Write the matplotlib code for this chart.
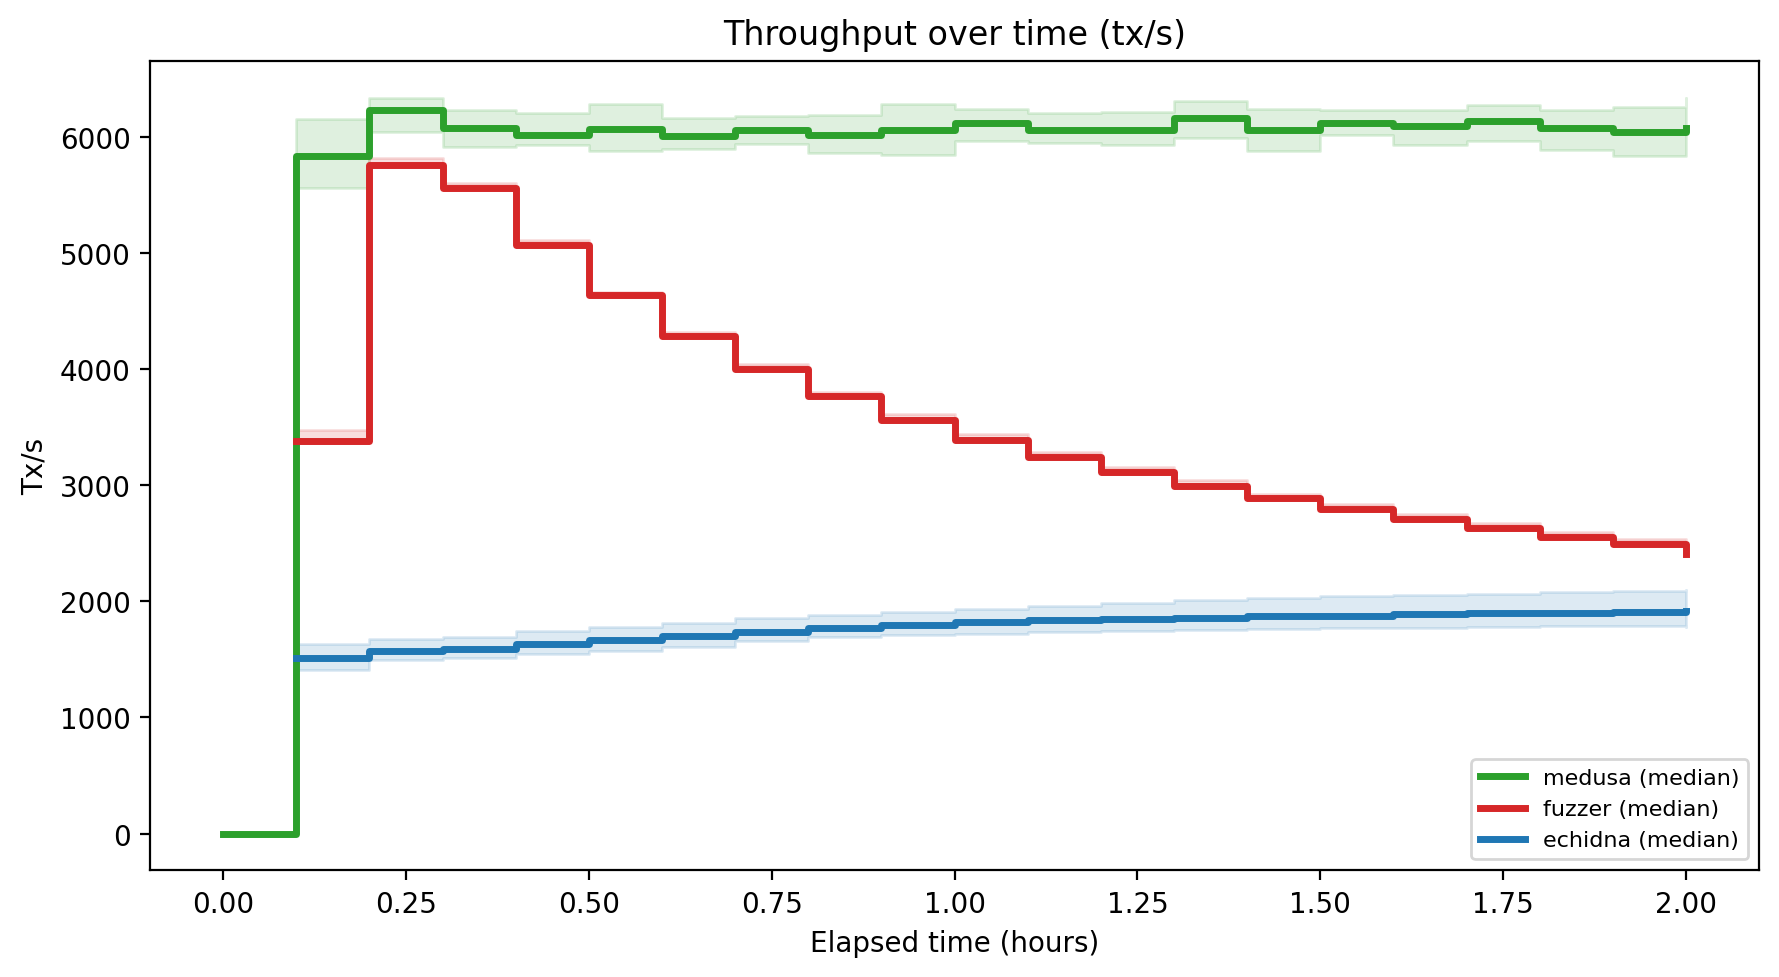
import numpy as np
import matplotlib
matplotlib.use("Agg")
from matplotlib import pyplot as plt

# elapsed time in hours
t_medusa = [0.0, 0.1, 0.2, 0.3, 0.4, 0.5, 0.6, 0.7, 0.8, 0.9, 1.0,
            1.1, 1.2, 1.3, 1.4, 1.5, 1.6, 1.7, 1.8, 1.9, 2.0]
t_other = t_medusa[1:]

medusa_med = [0, 5828, 6229, 6069, 6014, 6063, 6006, 6060, 6017, 6052, 6112,
              6052, 6052, 6157, 6060, 6120, 6092, 6137, 6069, 6043, 6075]
medusa_hi = [0, 6149, 6334, 6229, 6206, 6278, 6162, 6177, 6183, 6278, 6235,
             6206, 6212, 6304, 6241, 6224, 6224, 6269, 6224, 6258, 6330]
medusa_lo = [0, 5553, 6040, 5913, 5925, 5876, 5891, 5934, 5862, 5845, 5960,
             5943, 5925, 5991, 5874, 6011, 5929, 5962, 5885, 5828, 5830]

fuzzer_med = [3383, 5756, 5561, 5068, 4638, 4286, 3999, 3769, 3562, 3388,
              3239, 3110, 2995, 2886, 2795, 2709, 2632, 2557, 2494, 2408]
fuzzer_hi = [3477, 5816, 5600, 5105, 4664, 4320, 4042, 3802, 3609, 3440,
             3283, 3153, 3041, 2927, 2835, 2752, 2675, 2595, 2537, 2450]
fuzzer_lo = [3365, 5740, 5545, 5050, 4620, 4270, 3985, 3750, 3545, 3370,
             3222, 3093, 2978, 2870, 2778, 2692, 2615, 2540, 2477, 2395]

echidna_med = [1511, 1568, 1591, 1634, 1663, 1700, 1734, 1769, 1797, 1820,
               1838, 1849, 1860, 1869, 1877, 1886, 1895, 1895, 1906, 1915]
echidna_hi = [1628, 1671, 1691, 1740, 1777, 1815, 1855, 1883, 1907, 1935,
              1961, 1982, 2008, 2026, 2041, 2055, 2066, 2078, 2090, 2095]
echidna_lo = [1410, 1491, 1511, 1545, 1575, 1610, 1662, 1691, 1711, 1720,
              1734, 1742, 1750, 1763, 1772, 1772, 1777, 1786, 1786, 1780]

series = [
    ("medusa (median)", "tab:green", t_medusa, medusa_med, medusa_lo, medusa_hi),
    ("fuzzer (median)", "tab:red", t_other, fuzzer_med, fuzzer_lo, fuzzer_hi),
    ("echidna (median)", "tab:blue", t_other, echidna_med, echidna_lo, echidna_hi),
]

fig = plt.figure(figsize=(1779 / 200, 978 / 200), dpi=200)
ax = fig.add_axes([0.0843, 0.1090, 0.9045, 0.8277])

for name, col, t, med, lo, hi in series:
    ax.fill_between(t, lo, hi, step="post", color=col, alpha=0.15)
    ax.step(t, med, where="post", color=col, linewidth=2.5, label=name)

ax.set_title("Throughput over time (tx/s)")
ax.set_xlabel("Elapsed time (hours)")
ax.set_ylabel("Tx/s")
ax.legend(loc="lower right", fontsize=8)

fig.savefig("out.png", dpi=200)
